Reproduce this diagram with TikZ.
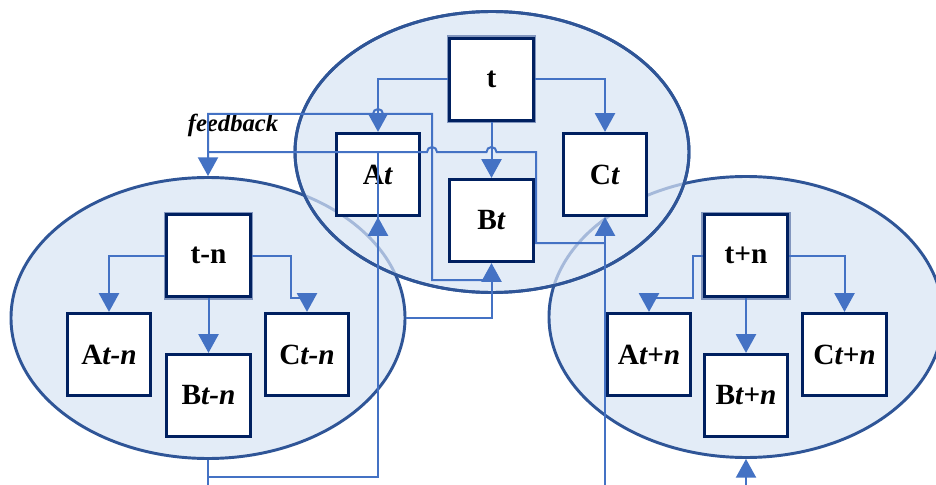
\documentclass[tikz,border=0pt]{standalone}
\usepackage{fontspec}
\setmainfont{Liberation Serif}
\usetikzlibrary{arrows.meta,shapes.geometric}
\definecolor{ellfill}{RGB}{227,236,247}
\definecolor{elldraw}{RGB}{47,85,151}
\definecolor{ellfaded}{RGB}{165,185,218}
\definecolor{conncol}{RGB}{68,114,196}
\definecolor{boxdraw}{RGB}{0,32,96}
\definecolor{tlight}{RGB}{130,150,190}
\begin{document}
\begin{tikzpicture}[x=0.75pt,y=-0.75pt,
  ell/.style={ellipse, draw=elldraw, line width=2.2pt, fill=ellfill,
    minimum width=295.5pt, minimum height=210.75pt, inner sep=0pt},
  fadedell/.style={draw=ellfaded, line width=2.2pt},
  box/.style={rectangle, draw=boxdraw, line width=2.1pt, fill=white,
    minimum width=62.8pt, minimum height=61.8pt, inner sep=0pt,
    font=\fontsize{22}{26}\selectfont\bfseries},
  tbox/.style={box, preaction={draw=tlight, line width=4.2pt}},
  cn/.style={draw=conncol, line width=1.5pt},
  arr/.style={cn, -{Triangle[length=14pt,width=15pt]}},
  lbl/.style={font=\fontsize{18.5}{22}\selectfont\bfseries\itshape}
]
\useasboundingbox (0,0) rectangle (936,485);
\fill[white] (0,0) rectangle (936,485);
\clip (0,0) rectangle (936,485);

% ellipses
\node[ell] (EL) at (208,318) {};
\node[ell] (ER) at (746,317) {};
\node[ell] (ET) at (492,152) {};
\begin{scope}
  \clip (492,152) ellipse [x radius=197, y radius=140.5];
  \draw[fadedell] (208,318) ellipse [x radius=197, y radius=140.5];
  \draw[fadedell] (746,317) ellipse [x radius=197, y radius=140.5];
\end{scope}
\draw[draw=elldraw, line width=2.2pt] (492,152) ellipse [x radius=197, y radius=140.5];

% top group
\node[tbox] (t)  at (491.5,79.5) {t};
\node[box]  (At) at (378,174.5) {A\textit{t}};
\node[box]  (Bt) at (491.5,220.5) {B\textit{t}};
\node[box]  (Ct) at (605,174.5) {C\textit{t}};

% left group
\node[tbox] (tn)  at (208.5,255.5) {t-n};
\node[box]  (Atn) at (109,354.5) {A\textit{t-n}};
\node[box]  (Btn) at (208.5,395.5) {B\textit{t-n}};
\node[box]  (Ctn) at (307,354.5) {C\textit{t-n}};

% right group
\node[tbox] (tp)  at (746,255.5) {t+n};
\node[box]  (Atp) at (649,354.5) {A\textit{t+n}};
\node[box]  (Btp) at (746,395.5) {B\textit{t+n}};
\node[box]  (Ctp) at (844.5,354.5) {C\textit{t+n}};

\node[lbl] (fb) at (233,125) {feedback};

% connectors inside groups
\draw[arr] (t.west) -| (At.north);
\draw[arr] (t.east) -| (Ct.north);
\draw[arr] (t.south) -- (Bt.north);
\draw[arr] (tn.west) -| (Atn.north);
\draw[arr] (tn.east) -- (291,255.5) -- (291,298) -| (Ctn.north);
\draw[arr] (tn.south) -- (Btn.north);
\draw[arr] (tp.west) -- (693,255.5) -- (693,298) -| (Atp.north);
\draw[arr] (tp.east) -| (Ctp.north);
\draw[arr] (tp.south) -- (Btp.north);

% feedback and links between groups
\coordinate (j1) at (491.5,280);
\draw[arr] (j1) -- (432,280) -- (432,114) -- (383,114)
  arc[start angle=0, end angle=-180, radius=5] -- (208,114) -- (EL.north);
\coordinate (j2) at (605,243);
\draw[cn] (208,152) -- (427,152) arc[start angle=180, end angle=360, radius=5]
  -- (486.5,152) arc[start angle=180, end angle=360, radius=5]
  -- (536,152) -- (536,243) -- (j2);
\draw[arr] (EL.east) -| (Bt.south);
\coordinate (bl) at (208,486);
\draw[cn] (EL.south) -- (bl);
\coordinate (j3) at (378,477);
\draw[cn] (208,477) -- (j3) -- (378,152);
\draw[arr] (j3) -- (At.south);
\coordinate (b2) at (605,486);
\draw[arr] (b2) -- (Ct.south);
\coordinate (b3) at (746,486);
\draw[arr] (b3) -- (ER.south);
\end{tikzpicture}
\end{document}
